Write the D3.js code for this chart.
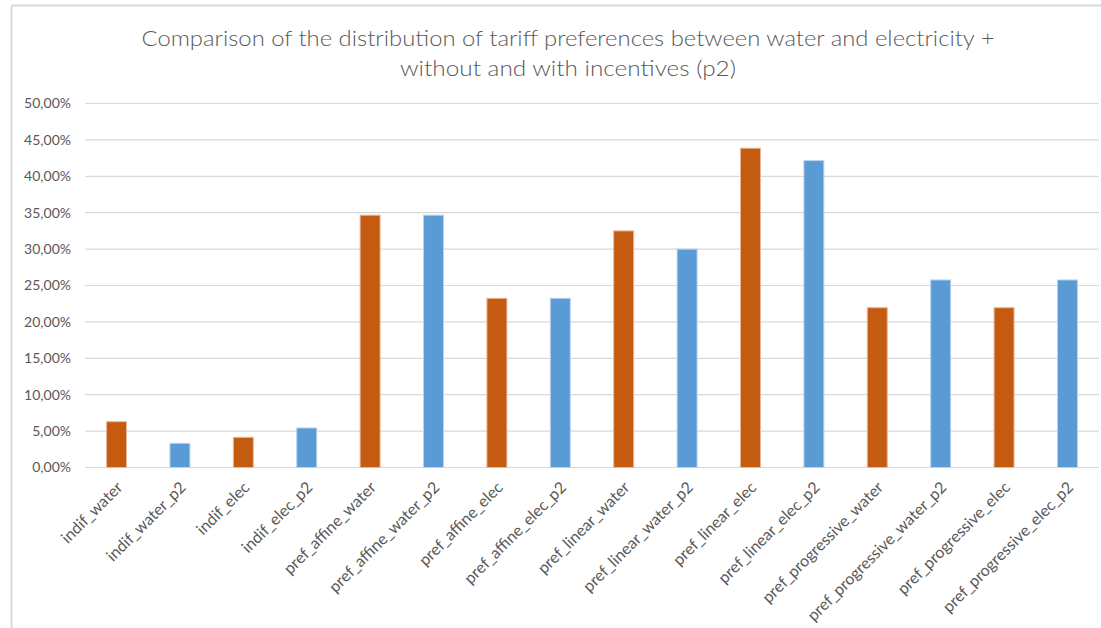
<!DOCTYPE html>
<html>
<head>
<meta charset="utf-8">
<script src="https://cdn.jsdelivr.net/npm/d3@7"></script>
<style>
  html, body { margin: 0; padding: 0; background: #ffffff; }
  svg { display: block; }
  text { font-family: Lato, "Open Sans", sans-serif; }
</style>
</head>
<body>
<svg id="chart" width="1101" height="628"></svg>
<script>
// Categories along the x axis
const categories = [
  "indif_water", "indif_water_p2", "indif_elec", "indif_elec_p2",
  "pref_affine_water", "pref_affine_water_p2", "pref_affine_elec", "pref_affine_elec_p2",
  "pref_linear_water", "pref_linear_water_p2", "pref_linear_elec", "pref_linear_elec_p2",
  "pref_progressive_water", "pref_progressive_water_p2", "pref_progressive_elec", "pref_progressive_elec_p2"
];
// Share of respondents (%) for each category
const values = [
  6.29, 3.32, 4.15, 5.43,
  34.66, 34.66, 23.24, 23.24,
  32.5, 30.0, 43.86, 42.16,
  21.95, 25.76, 21.95, 25.76
];
// Series: without incentives (base) vs with incentives (p2)
const seriesOf = categories.map(c => c.endsWith("_p2") ? "p2" : "base");
const yTicks = [0, 5, 10, 15, 20, 25, 30, 35, 40, 45, 50];
const titleLines = [
  "Comparison of the distribution of tariff preferences between water and electricity +",
  "without and with incentives (p2)"
];

const colors = { base: "#C55A11", p2: "#5B9BD5" };
const edge = { base: "#E8B89A", p2: "#B7D3EE" };

const svg = d3.select("#chart");
const margin = { left: 85, right: 2, top: 103.5, bottom: 160.5 };
const W = 1101, H = 628;

// Outer chart frame (top and left edges visible)
svg.append("line").attr("x1", 11.5).attr("x2", 1101).attr("y1", 5.5).attr("y2", 5.5)
  .attr("stroke", "#d9d9d9").attr("stroke-width", 2);
svg.append("line").attr("x1", 11.5).attr("x2", 11.5).attr("y1", 5.5).attr("y2", 628)
  .attr("stroke", "#d9d9d9").attr("stroke-width", 2);

const x = d3.scaleBand().domain(categories)
  .range([margin.left, W - margin.right]).paddingInner(0.685).paddingOuter(0.34);
const y = d3.scaleLinear().domain([0, 50]).range([H - margin.bottom, margin.top]);

// Gridlines
svg.append("g").selectAll("line").data(yTicks).join("line")
  .attr("x1", margin.left).attr("x2", W - margin.right)
  .attr("y1", d => y(d)).attr("y2", d => y(d))
  .attr("stroke", "#d9d9d9").attr("stroke-width", 1.2);

// Y axis labels
const yAxis = d3.axisLeft(y).tickValues(yTicks).tickSize(0).tickPadding(14)
  .tickFormat(d => d3.format(".2f")(d).replace(".", ",") + "%");
const gy = svg.append("g").attr("transform", `translate(${margin.left},0)`).call(yAxis);
gy.select(".domain").remove();
gy.selectAll("text").attr("fill", "#595959").style("font-size", "14px")
  .style("font-family", "Lato, 'Open Sans', sans-serif");

// Bars
svg.append("g").selectAll("rect").data(categories).join("rect")
  .attr("x", d => x(d))
  .attr("width", x.bandwidth())
  .attr("y", (d, i) => y(values[i]))
  .attr("height", (d, i) => y(0) - y(values[i]))
  .attr("fill", (d, i) => colors[seriesOf[i]])
  .attr("stroke", (d, i) => edge[seriesOf[i]])
  .attr("stroke-width", 1);

// X axis labels, rotated
const xAxis = d3.axisBottom(x).tickSize(0).tickPadding(0);
const gx = svg.append("g").attr("transform", `translate(0,${y(0)})`).call(xAxis);
gx.select(".domain").remove();
gx.selectAll("text")
  .attr("fill", "#595959").style("font-size", "16px")
  .style("font-family", "Lato, 'Open Sans', sans-serif")
  .attr("text-anchor", "end")
  .attr("y", 0).attr("dy", "0.35em")
  .attr("transform", "translate(3,17) rotate(-45)");

// Title
const titleWidths = [853, 336];
svg.append("g").selectAll("text").data(titleLines).join("text")
  .attr("x", 568).attr("y", (d, i) => 46 + i * 30)
  .attr("text-anchor", "middle")
  .attr("fill", "#595959")
  .style("font-size", "21px")
  .style("font-weight", 300)
  .attr("textLength", (d, i) => titleWidths[i])
  .attr("lengthAdjust", "spacingAndGlyphs")
  .text(d => d);
</script>
</body>
</html>
